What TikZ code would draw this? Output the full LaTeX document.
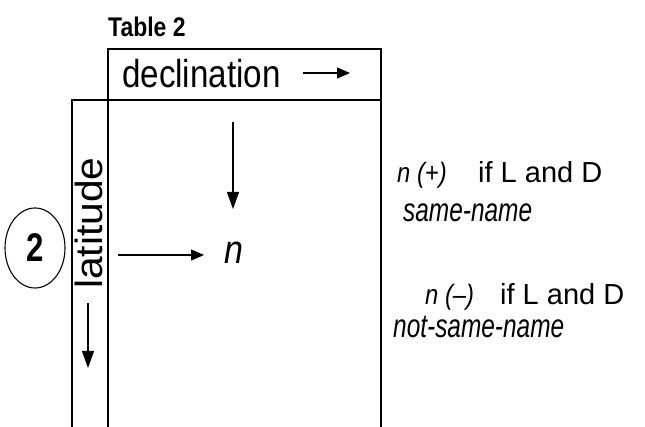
\documentclass[tikz,border=0pt]{standalone}
\usepackage{fontspec}
\setmainfont{Liberation Sans}
\newfontfamily\condsf[FakeStretch=0.85]{Liberation Sans}
\newfontfamily\widesf[FakeStretch=1.07]{Liberation Sans}
\newfontfamily\narrowsf[FakeStretch=0.78]{Liberation Sans}
\newfontfamily\notesf[FakeStretch=0.74]{Liberation Sans}
\usetikzlibrary{arrows.meta,shapes.geometric}

\begin{document}
\begin{tikzpicture}[x=1pt, y=-1pt,
    frame/.style={line width=1.4pt},
    arr/.style={line width=1.2pt, -{Triangle[length=13pt,width=11pt]}},
    longarr/.style={line width=1.2pt, -{Triangle[length=17pt,width=12pt]}},
    txt/.style={inner sep=0pt, anchor=base west}]
        \useasboundingbox (0,0) rectangle (645,427);

        \node[txt, font=\condsf\bfseries\fontsize{27}{27}\selectfont] (title) at (108,37) {Table 2};

        \draw[frame] (108,427) -- (108,49) -- (381,49) -- (381,427);
        \draw[frame] (108,100) -- (381,100);
        \draw[frame] (72,427) |- (108,100);

        \node[txt, font=\condsf\fontsize{39}{39}\selectfont] (decl) at (122,88) {declination};
        \node[txt, rotate=90, font=\widesf\fontsize{38}{38}\selectfont] (lat) at (102,289) {latitude};
        \node[txt, font=\condsf\itshape\fontsize{40}{40}\selectfont] (nval) at (224,264) {n};
        \node[draw, ellipse, line width=1.1pt, minimum width=60pt, minimum height=80pt, inner sep=0pt,
            font=\narrowsf\bfseries\fontsize{40}{40}\selectfont] (two) at (35,248) {2};

        \coordinate (declA) at (303,73);
        \coordinate (declB) at (350,73);
        \coordinate (latA) at (88,303);
        \coordinate (latB) at (88,368);
        \coordinate (downA) at (233,122);
        \coordinate (downB) at (233,209);
        \coordinate (rightA) at (118,255);
        \coordinate (rightB) at (204,255);

        \draw[arr] (declA) -- (declB);
        \draw[longarr] (latA) -- (latB);
        \draw[longarr] (downA) -- (downB);
        \draw[arr] (rightA) -- (rightB);

        \node[txt, font=\condsf\itshape\fontsize{28}{28}\selectfont] (plus) at (397,183) {n (+)};
        \node[txt, font=\fontsize{29}{29}\selectfont] (ifA) at (478,183) {if L and D};
        \node[txt, font=\notesf\itshape\fontsize{33}{33}\selectfont] (same) at (403,222) {same-name};
        \node[txt, font=\condsf\itshape\fontsize{28}{28}\selectfont] (minus) at (425,305) {n (–)};
        \node[txt, font=\fontsize{29}{29}\selectfont] (ifB) at (500,305) {if L and D};
        \node[txt, font=\notesf\itshape\fontsize{33}{33}\selectfont] (notsame) at (393,338) {not-same-name};
    \end{tikzpicture}
\end{document}
